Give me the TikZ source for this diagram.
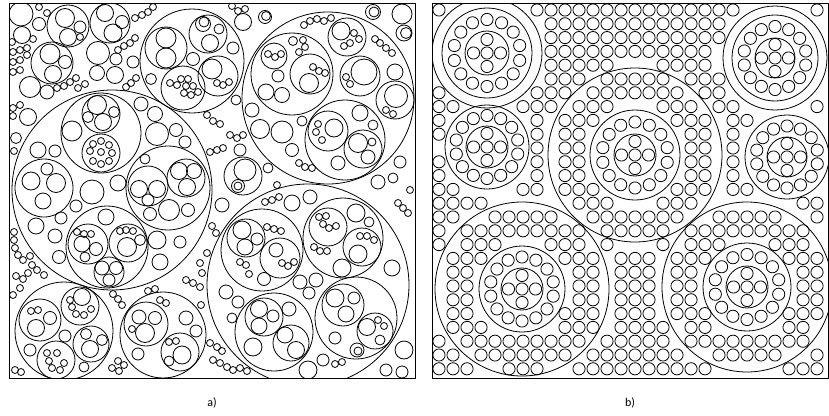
\documentclass[tikz,border=0pt]{standalone}
\usepackage{fontspec}
\setmainfont{Carlito}
\tikzset{
  pack/.style={line width=0.8pt},
  panel/.style={line width=1pt},
  caption/.style={font=\fontsize{12}{14}\selectfont, inner sep=0pt}
}

\begin{document}
\begin{tikzpicture}[x=1pt, y=-1pt, line cap=round, line join=round]
    \useasboundingbox (0,0) rectangle (829,415);

    % ---------------- Panel a: nested random packing ----------------
    \begin{scope}
    \clip (9,3) rectangle (415,378);

    % Level one circles
    \foreach \x/\y/\rad in {
        192/61/52, 328/98/86, 112/190/100, 308/285/101, 64/331/49, 163/335/43
    }{
        \draw[pack] (\x,\y) circle[radius=\rad pt];
    }

    % Free circles between the big ones
    \foreach \x/\y/\rad in {
        21/14/12, 39/24/6.5, 22/35/8.5, 68/26/21, 65/18/9.5, 68/37/8.5, 80/27/6, 80/37/3.5,
        110/23/20, 105/13/8.5, 113/33/9, 122/22/6.5, 52/63/21, 50/54/10, 53/74/8.5, 65/62/6.5,
        30/87/10.5, 47/92/7, 28/117/8.5, 98/53/11.5, 116/59/6, 97/73/7.5, 115/75/8.5, 133/62/6,
        243/22/8.5, 265/17/6.5, 266/16/4.5, 243/176/19, 245/170/11, 238/186/6.5, 238/186/4,
        373/12/7.5, 374/12/5, 402/14/10, 404/33/8, 406/33/5.5, 404/350/9, 402/372/6, 386/370/6,
        236/100/5, 240/150/6, 222/205/7, 268/168/5, 378/182/7, 393/178/5, 400/162/6, 16/138/5.5
    }{
        \draw[pack] (\x,\y) circle[radius=\rad pt];
    }

    % Inside the upper middle circle
    \foreach \x/\y/\rad in {
        166/48/21, 166/38/10, 166/58/10, 208/34/19, 203/24/7.5, 204/22/5, 210/43/8.5, 219/29/5,
        218/76/20, 212/69/10, 233/48/6, 183/88/22, 193/59/6.5, 151/79/5.5
    }{
        \draw[pack] (\x,\y) circle[radius=\rad pt];
    }

    % Inside the upper right circle
    \foreach \x/\y/\rad in {
        292/74/41, 274/56/13, 278/76/6, 310/74/20, 309/83/9.5, 266/92/8, 282/95/7.5, 293/41/4.5,
        347/37/19, 341/31/9, 360/76/20, 364/72/13, 395/100/19, 396/96/11.5, 395/72/8,
        345/140/40, 328/131/20, 334/128/9, 363/149/19, 358/143/9.5, 368/157/7, 372/142/4,
        338/163/7, 360/113/8, 373/125/5, 260/129/9.5, 252/110/7, 282/132/11, 292/150/6.5, 302/121/5
    }{
        \draw[pack] (\x,\y) circle[radius=\rad pt];
    }

    % Inside the left circle
    \foreach \x/\y/\rad in {
        101/133/40, 101/114/19, 97/105/9.5, 103/122/8.5, 88/117/5.5, 114/112/5.5, 101/153/19,
        72/131/10, 141/104/7, 155/114/7.5, 157/134/11.5, 176/130/6.5, 185/142/6,
        168/188/42, 148/186/20, 139/189/8.5, 157/189/8.5, 148/200/6, 186/178/19, 179/171/8.5,
        194/171/7.5, 187/187/8.5, 169/210/10.5, 150/214/6.5, 188/210/6.5, 145/159/5,
        107/247/41, 88/244/20, 82/244/8, 96/249/6.5, 85/257/5, 128/243/19, 127/247/9.5,
        140/240/5.5, 109/272/15, 102/268/7, 116/268/6.5, 109/280/6, 106/217/8,
        44/188/29, 31/181/9, 56/183/9.5, 43/201/8, 47/169/6, 38/150/8, 55/151/6,
        36/226/8, 55/236/7, 59/257/6.5, 157/240/9, 160/262/8, 180/242/6,
        76/206/6, 92/192/12, 118/183/8, 61/218/6
    }{
        \draw[pack] (\x,\y) circle[radius=\rad pt];
    }

    % Inside the lower right circle
    \foreach \x/\y/\rad in {
        262/250/41, 246/238/19, 242/230/9, 245/247/8, 257/239/6, 280/258/20, 276/250/7, 264/279/6.5,
        343/238/40, 328/227/19, 362/247/19, 358/254/9, 356/213/9, 342/268/9, 369/222/5,
        274/332/39, 264/317/19, 259/309/8.5, 259/326/8, 273/316/6, 291/343/18, 285/335/8,
        296/350/8.5, 253/347/9, 289/309/7,
        356/318/41, 343/305/21, 335/298/9, 346/314/8, 354/298/6, 375/331/18, 367/327/8.5,
        380/340/5, 357/350/7, 358/351/4, 335/338/6,
        300/282/7, 316/280/7, 309/293/6, 292/203/8, 310/197/7, 323/360/6, 308/370/9,
        392/268/8, 226/292/7, 232/318/5, 238/302/6
    }{
        \draw[pack] (\x,\y) circle[radius=\rad pt];
    }

    % Inside the two lower left circles
    \foreach \x/\y/\rad in {
        40/320/21, 36/328/8.5, 50/318/6.5, 80/306/19, 82/297/8.5, 91/344/18, 86/334/5.5,
        90/349/8.5, 102/340/5.5, 56/360/19, 65/336/6, 30/350/6, 84/367/5,
        146/324/22, 145/333/9.5, 139/317/7, 155/318/6.5, 180/352/19, 182/355/9, 169/361/5,
        138/354/6, 186/318/7, 196/331/6
    }{
        \draw[pack] (\x,\y) circle[radius=\rad pt];
    }

    % Tiny circles
    \foreach \x/\y in {
        39/7, 47/13, 12/42, 33/39, 13/52, 20/50, 27/48, 13/62, 20/60, 27/55, 13/72, 20/70,
        57/88, 64/86, 70/82, 76/78, 78/88, 85/84, 13/108, 20/105, 13/116, 14/151, 14/232, 14/240,
        118/50, 124/46, 130/43, 135/38, 126/87, 131/83, 136/78, 153/7, 148/12, 142/15, 135/18,
        232/6, 238/11, 245/9,
        217/83, 223/85, 229/82, 170/83, 177/85, 181/79, 188/79, 186/86, 193/86, 184/93, 191/95, 198/92,
        268/54, 275/57, 281/54, 313/67, 319/71, 325/73, 303/40, 305/47, 299/52,
        354/33, 359/39, 350/43, 344/46, 304/25, 310/21, 317/19, 324/21, 331/18,
        375/39, 380/43, 386/48, 392/53, 346/77, 350/84, 386/110, 393/114,
        318/124, 316/132, 322/140, 299/163, 305/167, 312/168,
        207/115, 213/121, 220/124, 230/135, 237/138, 243/135, 210/152, 217/150, 223/148, 277/185,
        202/273, 200/263, 207/253, 186/280, 193/283, 200/287, 212/226, 216/233, 201/305,
        210/343, 217/347, 222/351, 213/360, 220/363, 227/367, 233/370, 240/368, 247/371,
        90/151, 93/144, 101/141, 109/145, 112/153, 109/161, 101/164, 93/161, 101/152,
        77/232, 84/234, 91/234, 120/231, 126/230, 133/231,
        282/263, 288/266, 294/262, 267/227, 274/229, 281/231, 240/262, 246/265, 249/274,
        319/217, 326/216, 323/224, 329/228, 336/226, 360/236, 367/236, 374/240,
        314/247, 320/251, 327/251, 378/320, 384/326, 265/202, 272/200, 279/197,
        335/364, 342/362, 398/203, 403/208, 408/213, 410/190,
        31/311, 38/310, 70/300, 72/307, 76/314, 84/315, 91/309,
        47/353, 49/361, 52/368, 60/370, 64/363, 57/353, 15/370, 21/372,
        132/329, 169/342, 176/341, 160/300, 166/303,
        113/294, 118/299, 122/305, 118/361, 124/365, 119/371, 112/368, 148/291, 155/289,
        15/248, 18/255, 23/260, 30/256, 32/265, 37/270, 44/275, 28/273, 23/279, 16/276, 20/288, 13/295
    }{
        \draw[pack] (\x,\y) circle[radius=3.5pt];
    }
    \end{scope}
    \draw[panel] (9,3) rectangle (415,378);

    % ---------------- Panel b: ordered packing ----------------
    \begin{scope}
    \clip (432,3) rectangle (828.5,378);

    % Background lattice, kept out of the cells and inside the wide rings
    \foreach \i in {0,...,27}{
        \foreach \j in {0,...,26}{
            \pgfmathsetmacro\px{439+14*\i}
            \pgfmathsetmacro\py{10+13.8*\j}
            \pgfmathsetmacro\gapb{min(veclen(\px-487,\py-53)-55, veclen(\px-775,\py-58)-52,
                veclen(\px-487,\py-147)-42, veclen(\px-787,\py-157)-42, veclen(\px-635,\py-155)-87,
                veclen(\px-522,\py-289)-87, veclen(\px-747,\py-287)-85)}
            \pgfmathsetmacro\inband{max(14.9-abs(veclen(\px-635,\py-155)-66),
                15.9-abs(veclen(\px-522,\py-289)-65), 14.4-abs(veclen(\px-747,\py-287)-64.5))}
            \ifdim\gapb pt>6.4pt \draw[pack] (\px,\py) circle[radius=6.1pt]; \fi
            \ifdim\inband pt>-0.4pt \draw[pack] (\px,\py) circle[radius=6.1pt]; \fi
        }
    }

    % Cells: outer circle, middle circle, ring of 14, inner cross of 5
    \foreach \cx/\cy/\rout/\rmid/\rin in {
        487/53/55/45/22,
        775/58/52/43/20,
        487/147/0/42/21,
        787/157/0/42/20,
        635/155/87/45/21,
        522/289/87/43/21,
        747/287/85/44/21
    }{
        \ifdim\rout pt>0pt \draw[pack] (\cx,\cy) circle[radius=\rout pt]; \fi
        \draw[pack] (\cx,\cy) circle[radius=\rmid pt] circle[radius=\rin pt];
        \pgfmathsetmacro\rr{(\rmid+\rin)/2}
        \foreach \k in {0,...,13}{
            \draw[pack, shift={(\cx,\cy)}] ({90+\k*360/14}:\rr pt) circle[radius=6.1pt];
        }
        \foreach \dx/\dy in {0/0, 13.5/0, -13.5/0, 0/13.5, 0/-13.5}{
            \draw[pack, shift={(\cx,\cy)}] (\dx,\dy) circle[radius=6.1pt];
        }
    }
    \end{scope}
    \draw[panel] (432,3) rectangle (828.5,378);

    % Captions
    \node[caption] (capa) at (212,403) {a)};
    \node[caption] (capb) at (630,403) {b)};

\end{tikzpicture}
\end{document}
